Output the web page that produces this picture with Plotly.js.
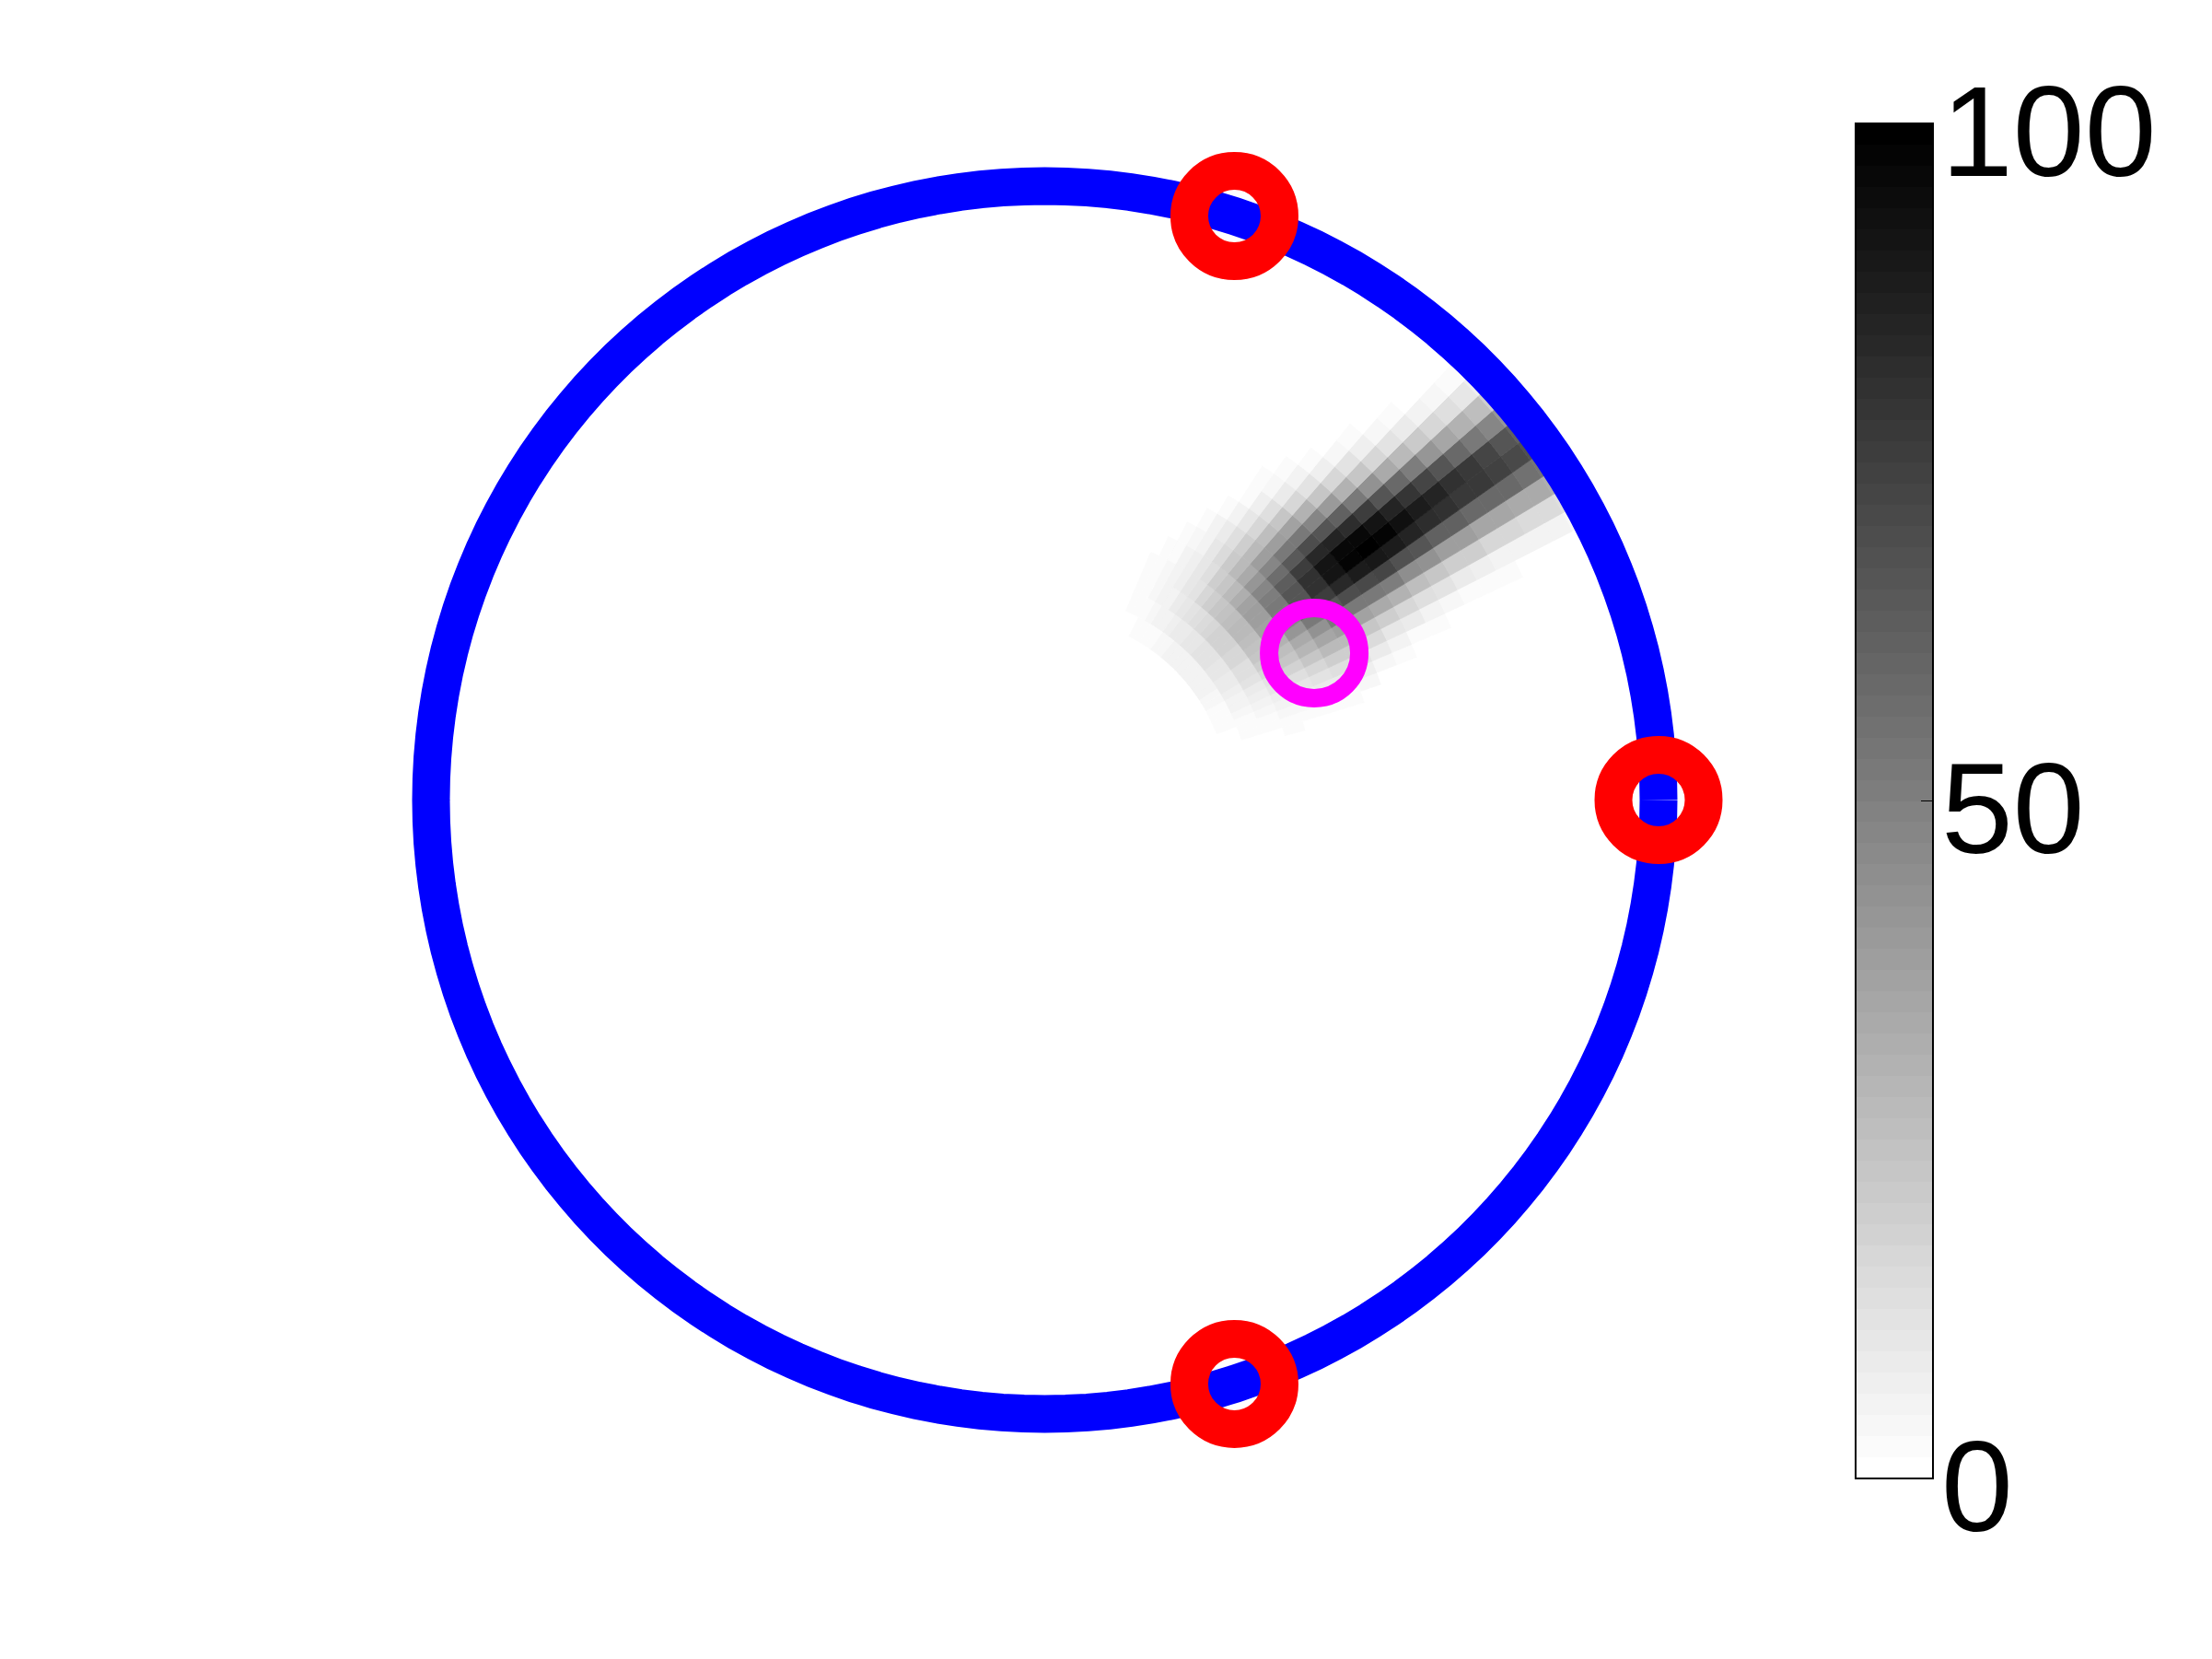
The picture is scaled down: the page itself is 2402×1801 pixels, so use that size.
<!DOCTYPE html>
<html>
<head>
<meta charset="utf-8">
<script src="https://cdn.plot.ly/plotly-3.0.1.min.js"></script>
<style>
  html, body { margin: 0; padding: 0; background: #fff; }
  #graph { width: 2402px; height: 1801px; }
</style>
</head>
<body>
<div id="graph"></div>
<script>
// array geometry (unit circle), microphones and the true source
const arrayRadius = 1;
const micR = [1, 1, 1];
const micTheta = [0, 72, -72];
const sourceR = [0.5];
const sourceTheta = [28.6];

// likelihood map on a polar grid: inner radius of each ring, centre angle of each sector
const ringBase = [0.300, 0.335, 0.370, 0.405, 0.440, 0.475, 0.510, 0.545, 0.580, 0.615,
                  0.650, 0.685, 0.720, 0.755, 0.790, 0.825, 0.860, 0.895, 0.930, 0.965];
const ringStep = 0.035;
const sectorTheta = [12, 14, 16, 18, 20, 22, 24, 26, 28, 30, 32, 34, 36, 38, 40, 42,
                     44, 46, 48, 50, 52, 54, 56, 58, 60, 62, 64, 66, 68, 70, 72];
const sectorStep = 2;

// one row per ring, one value per sector (0..100)
const likelihood = [
  [0,1,1,1,1,2,2,3,3,4,4,5,5,6,6,6,6,6,5,5,4,4,3,3,2,2,1,1,1,1,0],
  [1,1,1,2,2,3,4,5,6,7,8,9,10,10,11,11,11,10,10,9,8,7,6,5,4,3,2,2,1,1,1],
  [1,1,1,2,3,4,5,7,9,11,13,14,16,17,18,18,18,17,15,14,12,10,8,6,5,4,3,2,1,1,0],
  [1,1,2,2,4,5,7,10,12,16,19,22,24,26,27,27,26,24,22,19,16,12,10,7,5,4,2,2,1,1,0],
  [0,1,1,2,4,7,10,14,18,23,26,30,34,37,38,38,36,32,28,23,19,14,10,7,5,3,2,1,1,0,0],
  [0,1,1,2,4,8,12,17,23,29,34,41,47,51,52,51,47,41,34,27,21,15,10,6,4,2,1,1,0,0,0],
  [0,0,1,2,3,8,13,19,27,35,43,53,61,66,67,64,57,48,38,28,20,13,8,5,3,1,1,0,0,0,0],
  [0,0,1,1,4,7,12,19,28,38,52,65,75,81,81,75,65,52,38,26,17,10,5,3,1,1,0,0,0,0,0],
  [0,0,0,1,1,4,9,15,23,36,52,69,83,91,91,83,69,52,36,23,13,7,3,1,1,0,0,0,0,0,0],
  [0,0,0,0,1,2,5,10,19,33,52,71,88,97,96,85,67,48,30,17,9,4,2,1,0,0,0,0,0,0,0],
  [0,0,0,0,0,1,3,8,16,30,50,72,90,100,96,82,61,40,23,11,5,2,1,0,0,0,0,0,0,0,0],
  [0,0,0,0,0,1,2,5,13,26,45,68,88,97,92,75,52,31,16,7,3,1,0,0,0,0,0,0,0,0,0],
  [0,0,0,0,0,0,1,4,11,23,43,66,85,93,85,66,43,23,11,4,1,0,0,0,0,0,0,0,0,0,0],
  [0,0,0,0,0,0,1,3,8,20,39,62,82,89,79,58,34,17,7,2,1,0,0,0,0,0,0,0,0,0,0],
  [0,0,0,0,0,0,1,2,7,19,38,62,81,85,73,50,28,12,4,1,0,0,0,0,0,0,0,0,0,0,0],
  [0,0,0,0,0,0,0,2,6,17,35,59,78,81,66,42,21,9,3,1,0,0,0,0,0,0,0,0,0,0,0],
  [0,0,0,0,0,0,0,1,6,16,35,58,77,77,58,35,16,6,1,0,0,0,0,0,0,0,0,0,0,0,0],
  [0,0,0,0,0,0,0,1,5,15,34,58,74,72,53,30,13,4,1,0,0,0,0,0,0,0,0,0,0,0,0],
  [0,0,0,0,0,0,0,1,5,15,33,56,71,67,47,25,10,3,1,0,0,0,0,0,0,0,0,0,0,0,0],
  [0,0,0,0,0,0,0,1,4,14,32,54,68,62,41,20,7,2,0,0,0,0,0,0,0,0,0,0,0,0,0]
];

const cbMin = 0, cbMax = 100;
const cbTicks = [0, 50, 100];

// 64-step inverted gray colormap
const greys = [];
for (let k = 0; k < 64; k++) {
  const g = Math.round(255 * (1 - k / 63));
  const c = "rgb(" + g + "," + g + "," + g + ")";
  greys.push([k / 64, c], [(k + 1) / 64, c]);
}

// flatten the grid into barpolar cells
const cellBase = [], cellLen = [], cellTheta = [], cellWidth = [], cellVal = [];
ringBase.forEach(function (b, i) {
  sectorTheta.forEach(function (t, j) {
    const v = likelihood[i][j];
    if (v <= 0) return;
    cellBase.push(b);
    cellLen.push(ringStep);
    cellTheta.push(t);
    cellWidth.push(sectorStep);
    cellVal.push(v);
  });
});

const ringTheta = [];
for (let a = 0; a <= 360; a += 2) ringTheta.push(a);

const W = 2402, H = 1801;
const cbLeft = 2015, cbTop = 134, cbBottom = 1605, cbThick = 84;
const cbMidY = 1 - (cbTop + cbBottom) / 2 / H;
const labelFont = { family: "Liberation Sans, Arial, Helvetica, sans-serif", size: 140, color: "black" };

const field = {
  type: "barpolar",
  r: cellLen,
  base: cellBase,
  theta: cellTheta,
  width: cellWidth,
  hoverinfo: "skip",
  marker: {
    color: cellVal,
    colorscale: greys,
    cmin: cbMin, cmax: cbMax,
    line: { width: 0.8, color: cellVal, colorscale: greys, cmin: cbMin, cmax: cbMax },
    showscale: true,
    colorbar: {
      x: cbLeft / W, xanchor: "left", xpad: 0,
      y: cbMidY, yanchor: "middle", ypad: 0,
      thickness: cbThick, thicknessmode: "pixels",
      len: cbBottom - cbTop, lenmode: "pixels",
      outlinewidth: 2, outlinecolor: "black", borderwidth: 0,
      tickvals: cbTicks,
      ticks: "inside", ticklen: 14, tickwidth: 1.5, tickcolor: "black",
      showticklabels: false
    }
  }
};

const ring = {
  type: "scatterpolar",
  mode: "lines",
  r: ringTheta.map(function () { return arrayRadius; }),
  theta: ringTheta,
  line: { color: "rgb(0,0,255)", width: 41 },
  hoverinfo: "skip"
};

const mics = {
  type: "scatterpolar",
  mode: "markers",
  r: micR,
  theta: micTheta,
  cliponaxis: false,
  marker: { symbol: "circle-open", size: 98, color: "rgb(255,0,0)", line: { width: 41 } }
};

const source = {
  type: "scatterpolar",
  mode: "markers",
  r: sourceR,
  theta: sourceTheta,
  cliponaxis: false,
  marker: { symbol: "circle-open", size: 98, color: "rgb(255,0,255)", line: { width: 20 } }
};

// colorbar tick labels, placed next to the bar at their tick values
const cbLabels = cbTicks.map(function (v) {
  const yPx = cbBottom - (v - cbMin) / (cbMax - cbMin) * (cbBottom - cbTop);
  return {
    xref: "paper", yref: "paper",
    x: 2106 / W, xanchor: "left",
    y: 1 - yPx / H, yanchor: "middle",
    yshift: -8,
    text: String(v),
    showarrow: false,
    font: labelFont
  };
});

// polar area: centre (1134.5, 868.5) px, unit radius 666.5 px
const rMax = 1.12;
const cx = 1134.5, cy = 868.5, unitPx = 666.5;
const half = unitPx * rMax;

const layout = {
  width: W, height: H,
  margin: { l: 0, r: 0, t: 0, b: 0 },
  paper_bgcolor: "white",
  showlegend: false,
  polar: {
    domain: { x: [(cx - half) / W, (cx + half) / W], y: [(H - cy - half) / H, (H - cy + half) / H] },
    bgcolor: "white",
    barmode: "overlay",
    bargap: 0,
    radialaxis: { range: [0, rMax], visible: false, showgrid: false, showline: false, showticklabels: false, ticks: "" },
    angularaxis: { visible: false, showgrid: false, showline: false, showticklabels: false, ticks: "" }
  },
  annotations: cbLabels,
  shapes: [{
    type: "line", xref: "paper", yref: "paper",
    x0: cbLeft / W, x1: (cbLeft + 14) / W, y0: cbMidY, y1: cbMidY,
    line: { color: "black", width: 1.5 }
  }]
};

Plotly.newPlot("graph", [field, ring, mics, source], layout, { staticPlot: true, displayModeBar: false });
</script>
</body>
</html>
